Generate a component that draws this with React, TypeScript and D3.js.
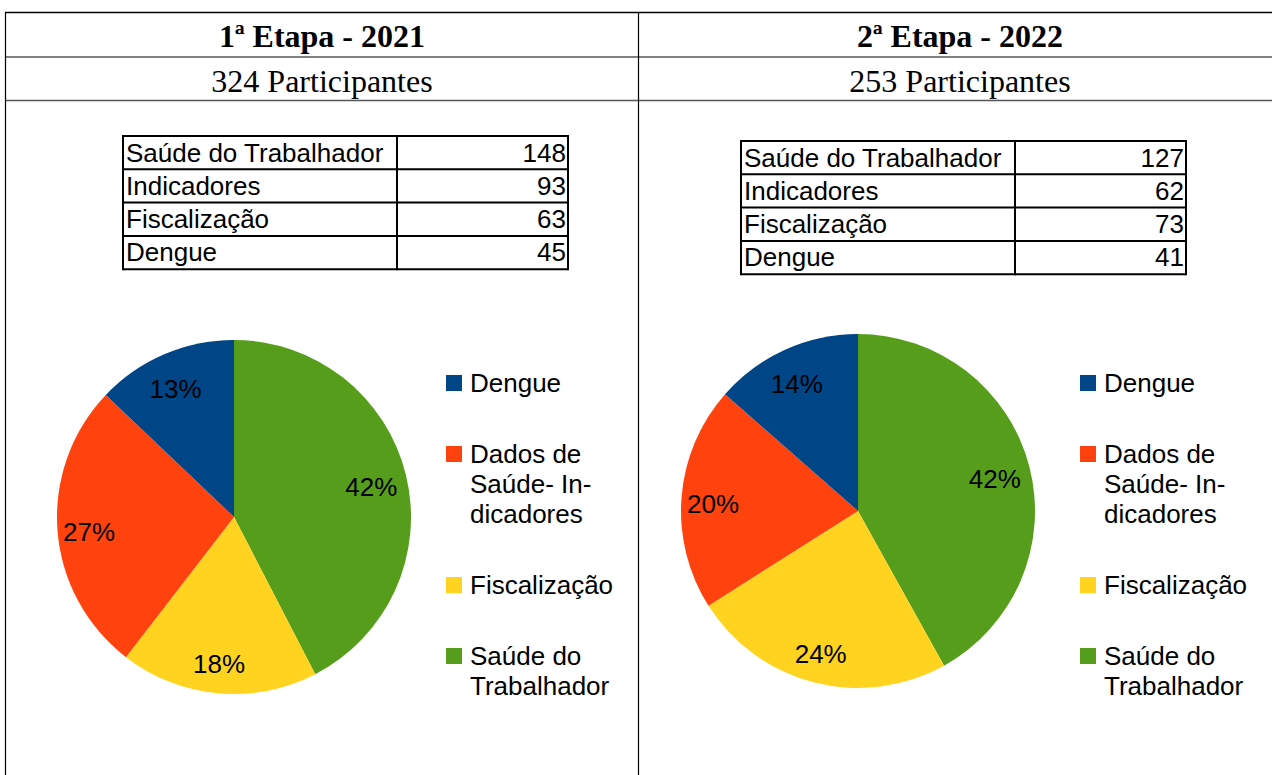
import React from "react";
import * as d3 from "d3";

const stageTitles = ["1ª Etapa - 2021", "2ª Etapa - 2022"];
const participants = [324, 253];

const tableCategories = ["Saúde do Trabalhador", "Indicadores", "Fiscalização", "Dengue"];
const tableValues2021 = [148, 93, 63, 45];
const tableValues2022 = [127, 62, 73, 41];

// pie order (clockwise from 12 o'clock)
const pieKeys = ["Saúde do Trabalhador", "Fiscalização", "Indicadores", "Dengue"];
const pieValues2021 = [148, 63, 93, 45];
const pieValues2022 = [127, 73, 62, 41];

const legendKeys = ["Dengue", "Indicadores", "Fiscalização", "Saúde do Trabalhador"];
const legendLabels = [["Dengue"], ["Dados de", "Saúde- In-", "dicadores"], ["Fiscalização"], ["Saúde do", "Trabalhador"]];

const colors: Record<string, string> = {
  "Dengue": "#004586",
  "Indicadores": "#ff420e",
  "Fiscalização": "#ffd320",
  "Saúde do Trabalhador": "#579d1c",
};

const SANS = "'Liberation Sans', Arial, sans-serif";
const SERIF = "'Liberation Serif', 'Times New Roman', serif";

function DataTable({ x, y, values }: { x: number; y: number; values: number[] }) {
  const w1 = 274, w2 = 171, rh = 33.3;
  const rows = d3.range(tableCategories.length);
  return (
    <g transform={`translate(${x},${y})`}>
      {rows.map((i) => (
        <g key={i}>
          <text x={3} y={i * rh + 25.5} fontFamily={SANS} fontSize={26} fill="#000">{tableCategories[i]}</text>
          <text x={w1 + w2 - 2} y={i * rh + 25.5} fontFamily={SANS} fontSize={26} fill="#000" textAnchor="end">{values[i]}</text>
        </g>
      ))}
      {d3.range(tableCategories.length + 1).map((i) => (
        <line key={"h" + i} x1={0} x2={w1 + w2} y1={i * rh} y2={i * rh} stroke="#000" strokeWidth={2} />
      ))}
      {[0, w1, w1 + w2].map((xx, i) => (
        <line key={"v" + i} x1={xx} x2={xx} y1={-1} y2={rh * 4 + 1} stroke="#000" strokeWidth={2} />
      ))}
    </g>
  );
}

function PieChart({ cx, cy, values, legendX }: { cx: number; cy: number; values: number[]; legendX: number }) {
  const r = 177;
  const total = d3.sum(values);
  const pie = d3.pie<number>().sort(null).value((d) => d);
  const arcs = pie(values);
  const arc = d3.arc<d3.PieArcDatum<number>>().innerRadius(0).outerRadius(r);
  const labelArc = d3.arc<d3.PieArcDatum<number>>().innerRadius(r * 0.81).outerRadius(r * 0.81);
  const fmt = d3.format(".0%");
  const legendY = [383, 454, 585, 656];
  return (
    <g>
      <g transform={`translate(${cx},${cy})`}>
        {arcs.map((a, i) => (
          <path key={i} d={arc(a) || ""} fill={colors[pieKeys[i]]} />
        ))}
        {arcs.map((a, i) => {
          const [lx, ly] = labelArc.centroid(a);
          return (
            <text key={"l" + i} x={lx - 2} y={ly + 4} fontFamily={SANS} fontSize={26} textAnchor="middle" dominantBaseline="central" fill="#000">
              {fmt(a.data / total)}
            </text>
          );
        })}
      </g>
      {legendKeys.map((k, i) => (
        <g key={k}>
          <rect x={legendX} y={legendY[i] - 8} width={16} height={16} fill={colors[k]} />
          {legendLabels[i].map((t, j) => (
            <text key={j} x={legendX + 24} y={legendY[i] + 9 + j * 30} fontFamily={SANS} fontSize={26} fill="#000">{t}</text>
          ))}
        </g>
      ))}
    </g>
  );
}

export default function App() {
  const W = 1272, H = 775;
  const colCenters = [322, 960];
  return (
    <div style={{ position: "absolute", left: 0, top: 0 }}>
      <svg width={W} height={H} style={{ display: "block", background: "#fff" }}>
        {/* frame */}
        <line x1={5} x2={W} y1={12.5} y2={12.5} stroke="#000" strokeWidth={1.5} />
        <line x1={5} x2={W} y1={57} y2={57} stroke="#808080" strokeWidth={2} />
        <line x1={5} x2={W} y1={100.5} y2={100.5} stroke="#555" strokeWidth={1.5} />
        <line x1={5.5} x2={5.5} y1={12} y2={H} stroke="#000" strokeWidth={1.2} />
        <line x1={638.5} x2={638.5} y1={12} y2={H} stroke="#000" strokeWidth={1.2} />
        {stageTitles.map((t, i) => (
          <g key={t}>
            <text x={colCenters[i]} y={47} textAnchor="middle" fontFamily={SERIF} fontWeight="bold" fontSize={32}>{t}</text>
            <text x={colCenters[i]} y={92} textAnchor="middle" fontFamily={SERIF} fontSize={32}>{`${participants[i]} Participantes`}</text>
          </g>
        ))}
        <DataTable x={123} y={136} values={tableValues2021} />
        <DataTable x={741} y={141} values={tableValues2022} />
        <PieChart cx={234} cy={517} values={pieValues2021} legendX={446} />
        <PieChart cx={858} cy={511} values={pieValues2022} legendX={1080} />
      </svg>
    </div>
  );
}
